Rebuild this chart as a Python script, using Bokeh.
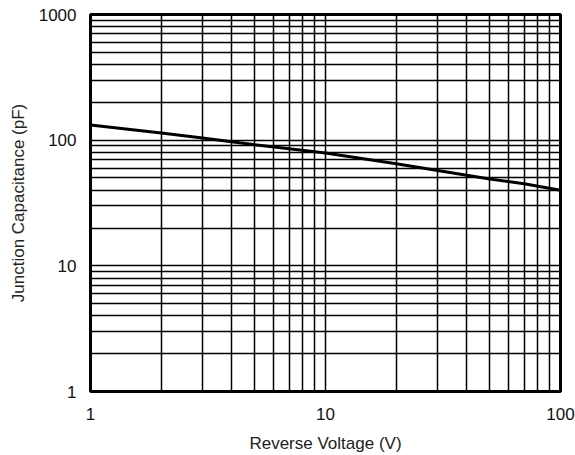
from bokeh.plotting import figure
from bokeh.models import FixedTicker, Range1d
from bokeh.embed import file_html
from bokeh.resources import INLINE

# Data
voltage = [1, 2, 3, 5, 10, 20, 50, 70, 100]          # Reverse Voltage (V)
capacitance = [132, 114, 104, 92, 79, 65, 49, 45, 40]  # Junction Capacitance (pF)

x_ticks = [1, 10, 100]
x_tick_labels = ["1", "10", "100"]
y_ticks = [1, 10, 100, 1000]
y_tick_labels = ["1", "10", "100", "1000"]

x_label = "Reverse Voltage (V)"
y_label = "Junction Capacitance (pF)"

x_minor = [m * d for d in x_ticks[:-1] for m in range(2, 10)]
y_minor = [m * d for d in y_ticks[:-1] for m in range(2, 10)]

FONT = "Liberation Sans"

p = figure(width=575, height=455, x_axis_type="log", y_axis_type="log",
           x_range=Range1d(1, 100), y_range=Range1d(1, 1000),
           output_backend="svg", toolbar_location=None,
           min_border_left=90, min_border_right=15, min_border_top=14,
           min_border_bottom=63)

p.line(voltage, capacitance, line_color="black", line_width=3)

p.xaxis.ticker = FixedTicker(ticks=x_ticks, minor_ticks=x_minor)
p.yaxis.ticker = FixedTicker(ticks=y_ticks, minor_ticks=y_minor)
p.xaxis.major_label_overrides = dict(zip(x_ticks, x_tick_labels))
p.yaxis.major_label_overrides = dict(zip(y_ticks, y_tick_labels))

for ax in (p.xaxis, p.yaxis):
    ax.axis_line_color = None
    ax.major_tick_line_color = None
    ax.minor_tick_line_color = None
    ax.major_label_text_font = FONT
    ax.major_label_text_font_size = "17px"
    ax.major_label_text_color = "#111111"
    ax.axis_label_text_font = FONT
    ax.axis_label_text_font_size = "17px"
    ax.axis_label_text_font_style = "normal"
    ax.axis_label_text_color = "#222222"

p.xaxis.axis_label = x_label
p.yaxis.axis_label = y_label
p.xaxis.major_label_standoff = 10
p.yaxis.major_label_standoff = 8
p.xaxis.axis_label_standoff = 11
p.yaxis.axis_label_standoff = 8

for g in (p.xgrid, p.ygrid):
    g.grid_line_color = "black"
    g.grid_line_width = 1.5
    g.grid_line_alpha = 1.0
    g.minor_grid_line_color = "black"
    g.minor_grid_line_width = 1.5
    g.minor_grid_line_alpha = 1.0

p.outline_line_color = "black"
p.outline_line_width = 3
p.outline_line_alpha = 1.0
p.background_fill_color = "white"
p.border_fill_color = "white"

open("out.html", "w").write(file_html(p, INLINE))
